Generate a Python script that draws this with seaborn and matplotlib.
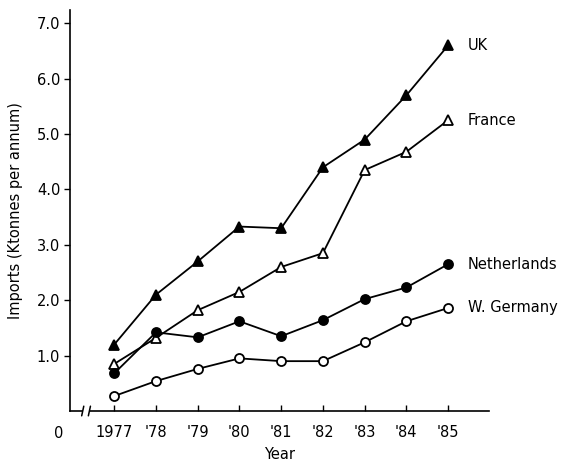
import matplotlib
matplotlib.use("Agg")
import matplotlib.pyplot as plt
import matplotlib.transforms as mtransforms
import numpy as np
import pandas as pd
import seaborn as sns

sns.set_theme(style="ticks")
plt.rcParams["font.family"] = ["DejaVu Sans"]

years = [1977, 1978, 1979, 1980, 1981, 1982, 1983, 1984, 1985]
year_labels = ["1977", "'78", "'79", "'80", "'81", "'82", "'83", "'84", "'85"]
uk = [1.2, 2.1, 2.7, 3.33, 3.3, 4.4, 4.9, 5.7, 6.6]
france = [0.85, 1.32, 1.82, 2.15, 2.6, 2.85, 4.35, 4.68, 5.25]
netherlands = [0.68, 1.42, 1.33, 1.62, 1.35, 1.64, 2.02, 2.23, 2.65]
w_germany = [0.27, 0.54, 0.76, 0.95, 0.9, 0.9, 1.24, 1.62, 1.86]
y_ticks = [1.0, 2.0, 3.0, 4.0, 5.0, 6.0, 7.0]

series = {
    "UK": (uk, "^", "black"),
    "France": (france, "^", "white"),
    "Netherlands": (netherlands, "o", "black"),
    "W. Germany": (w_germany, "o", "white"),
}

frames = []
for name, (vals, _, _) in series.items():
    frames.append(pd.DataFrame({"year": years, "imports": vals, "country": name}))
df = pd.concat(frames, ignore_index=True)

fig = plt.figure(figsize=(5.61, 4.67), dpi=100)
ax = fig.add_axes([70 / 561, 56 / 467, 419 / 561, 401 / 467])

for name, (vals, mk, face) in series.items():
    sub = df[df["country"] == name]
    sns.lineplot(data=sub, x="year", y="imports", ax=ax, color="black",
                 linewidth=1.3, marker=mk, markersize=7 if mk == "^" else 6.5,
                 markerfacecolor=face, markeredgecolor="black",
                 markeredgewidth=1.3, legend=False)
    ax.annotate(name, xy=(years[-1], vals[-1]), xytext=(14, 0),
                textcoords="offset points", va="center", ha="left",
                fontsize=10.5, color="black")

ax.set_xlim(1975.94, 1985.98)
ax.set_ylim(0, 7.24)
ax.set_xticks(years)
ax.set_xticklabels(year_labels, fontsize=10.5)
ax.set_yticks(y_ticks)
ax.set_yticklabels([f"{v:.1f}" for v in y_ticks], fontsize=10.5)
ax.tick_params(axis="x", direction="in", length=4, width=1, pad=10, colors="black")
ax.tick_params(axis="y", direction="out", length=4, width=1, pad=3, colors="black")
ax.set_xlabel("Year", fontsize=10.5, labelpad=5, color="black")
ax.set_ylabel("Imports (Ktonnes per annum)", fontsize=10.5, labelpad=10, color="black")

for side in ("top", "right"):
    ax.spines[side].set_visible(False)
for side in ("left", "bottom"):
    ax.spines[side].set_color("black")
    ax.spines[side].set_linewidth(1.2)

# origin label and axis break on the year axis
ax.text(-0.015, -0.055, "0", transform=ax.transAxes, ha="right", va="center",
        fontsize=10.5, color="black")
trans = mtransforms.blended_transform_factory(ax.transData, ax.transAxes)
ax.plot([1976.25, 1976.40], [0, 0], transform=trans, color="white",
        linewidth=3, clip_on=False, solid_capstyle="butt", zorder=5)
for x0 in (1976.22, 1976.38):
    ax.plot([x0, x0 + 0.05], [-0.012, 0.012], transform=trans, color="black",
            linewidth=1.1, clip_on=False, zorder=6)

fig.savefig("out.png", dpi=100)
